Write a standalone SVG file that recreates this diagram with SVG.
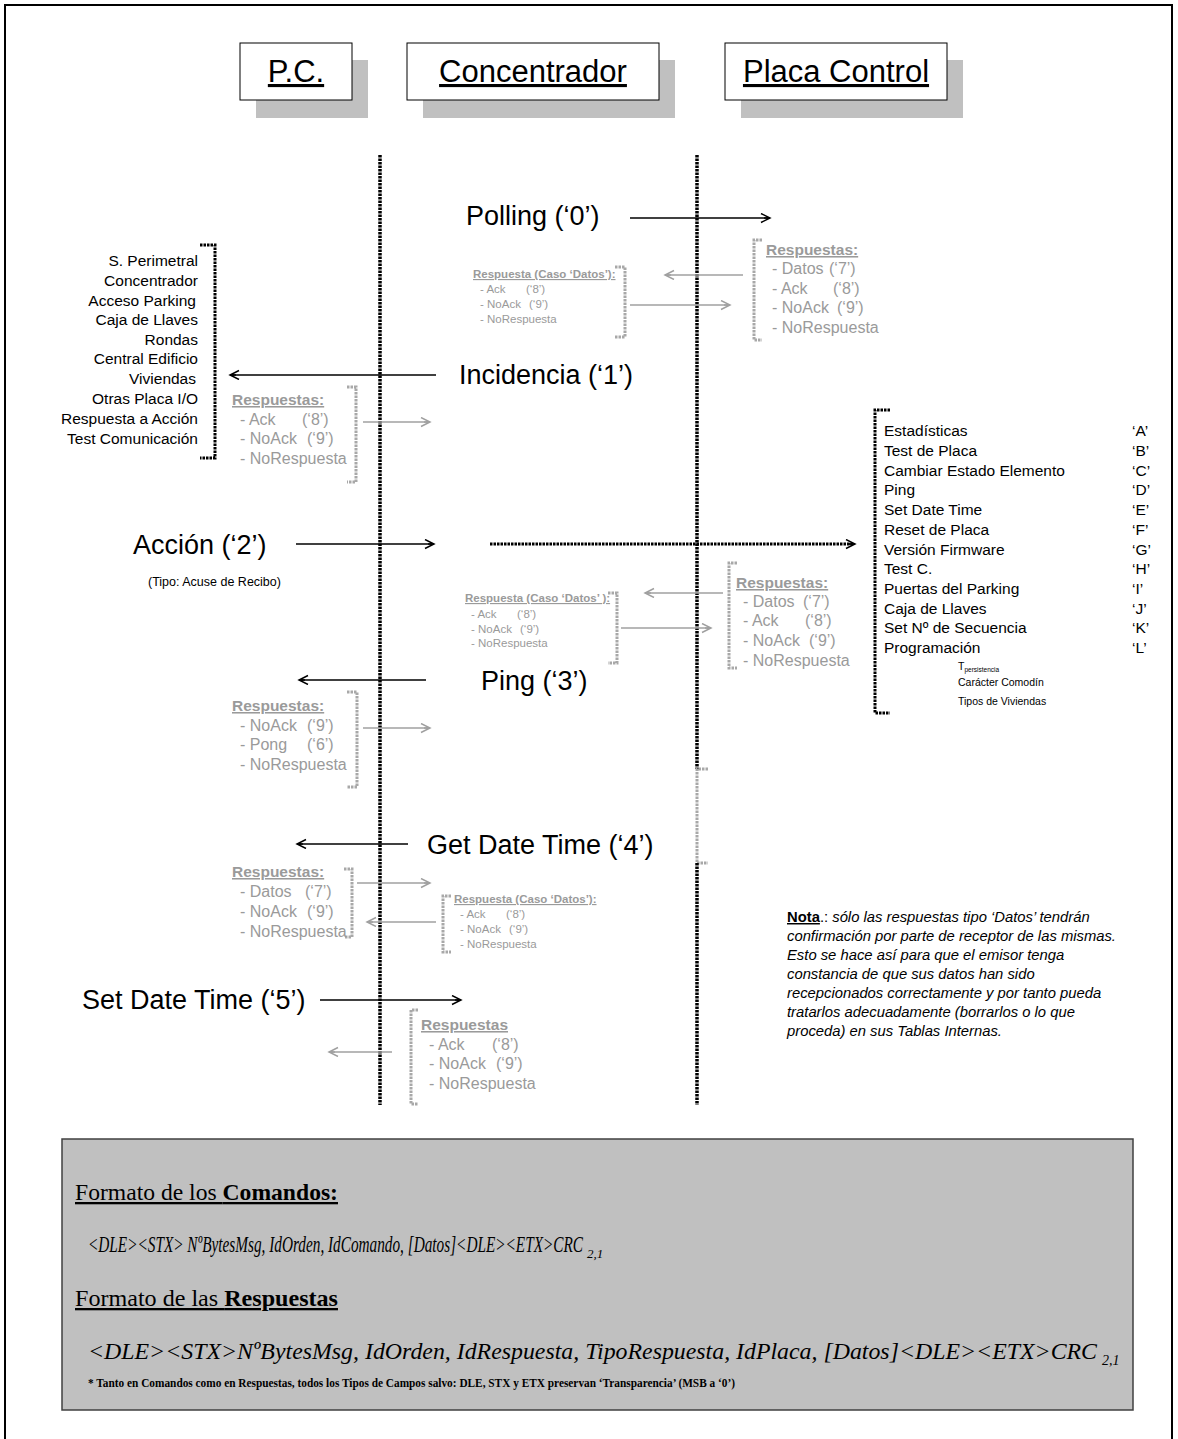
<svg xmlns="http://www.w3.org/2000/svg" width="1178" height="1439" viewBox="0 0 1178 1439">
<defs>
<style>
.sans{font-family:"Liberation Sans",Arial,sans-serif}
.hdr{font-family:"Liberation Sans",Arial,sans-serif;font-size:31px;text-decoration:underline;text-anchor:middle}
.cmd{font-family:"Liberation Sans",Arial,sans-serif;font-size:27px;fill:#000}
.lst{font-family:"Liberation Sans",Arial,sans-serif;font-size:15.5px;fill:#000}
.gh{font-family:"Liberation Sans",Arial,sans-serif;font-size:15.5px;font-weight:bold;fill:#9a9a9a;text-decoration:underline}
.gi{font-family:"Liberation Sans",Arial,sans-serif;font-size:16px;fill:#9a9a9a}
.sh{font-family:"Liberation Sans",Arial,sans-serif;font-size:11.5px;font-weight:bold;fill:#9a9a9a;text-decoration:underline}
.si{font-family:"Liberation Sans",Arial,sans-serif;font-size:11.5px;fill:#9a9a9a}
.note{font-family:"Liberation Sans",Arial,sans-serif;font-size:14.8px;font-style:italic;fill:#000}
.serif{font-family:"Liberation Serif","Times New Roman",serif;fill:#000}
.life{stroke:#000;stroke-width:3.5;stroke-dasharray:2.5 1;fill:none}
.bk{stroke:#000;stroke-width:3;stroke-dasharray:2.5 1;fill:none}
.gb{stroke:#a8a8a8;stroke-width:3;stroke-dasharray:2.5 1;fill:none}
.ab{stroke:#000;stroke-width:1.5;fill:none;marker-end:url(#mb)}
.ag{stroke:#a0a0a0;stroke-width:1.5;fill:none;marker-end:url(#mg)}
</style>
<marker id="mb" markerUnits="userSpaceOnUse" markerWidth="12" markerHeight="12" refX="10" refY="5" orient="auto"><path d="M1,0.5 L10,5 L1,9.5 M4,5 L10,5" stroke="#000" stroke-width="1.5" fill="none"/></marker>
<marker id="mg" markerUnits="userSpaceOnUse" markerWidth="12" markerHeight="12" refX="10" refY="5" orient="auto"><path d="M1,0.5 L10,5 L1,9.5 M4,5 L10,5" stroke="#a0a0a0" stroke-width="1.5" fill="none"/></marker>
</defs>
<rect x="0" y="0" width="1178" height="1439" fill="#fff"/>
<rect x="5" y="5" width="1167" height="1450" fill="none" stroke="#000" stroke-width="2"/>

<g id="node-pc">
<rect x="256" y="60" width="112" height="58" fill="#c0c0c0"/>
<rect x="240" y="43" width="112" height="57" fill="#fff" stroke="#000" stroke-width="1"/>
<text class="hdr" x="296" y="82">P.C.</text>
</g>
<g id="node-concentrador">
<rect x="423" y="60" width="252" height="58" fill="#c0c0c0"/>
<rect x="407" y="43" width="252" height="57" fill="#fff" stroke="#000" stroke-width="1"/>
<text class="hdr" x="533" y="82">Concentrador</text>
</g>
<g id="node-placa">
<rect x="741" y="60" width="222" height="58" fill="#c0c0c0"/>
<rect x="725" y="43" width="222" height="57" fill="#fff" stroke="#000" stroke-width="1"/>
<text class="hdr" x="836" y="82">Placa Control</text>
</g>

<g id="lifelines">
<line class="life" x1="380" y1="155" x2="380" y2="1105"/>
<line class="life" x1="697" y1="155" x2="697" y2="769"/>
<path class="gb" d="M708,769 H697 V863 H708"/>
<line class="life" x1="697" y1="863" x2="697" y2="1105"/>
</g>

<g id="connectors">
<line class="ab" x1="630" y1="218" x2="770" y2="218"/>
<line class="ab" x1="436" y1="375" x2="230" y2="375"/>
<line class="ab" x1="296" y1="544" x2="434" y2="544"/>
<line class="bk" x1="490" y1="544" x2="852" y2="544"/>
<line class="ab" x1="848" y1="544" x2="855" y2="544"/>
<line class="ab" x1="426" y1="680" x2="299" y2="680"/>
<line class="ab" x1="408" y1="844" x2="297" y2="844"/>
<line class="ab" x1="320" y1="1000" x2="461" y2="1000"/>
<line class="ag" x1="743" y1="275" x2="665" y2="275"/>
<line class="ag" x1="630" y1="305" x2="730" y2="305"/>
<line class="ag" x1="363" y1="422" x2="430" y2="422"/>
<line class="ag" x1="723" y1="593" x2="645" y2="593"/>
<line class="ag" x1="621" y1="628" x2="711" y2="628"/>
<line class="ag" x1="363" y1="728" x2="430" y2="728"/>
<line class="ag" x1="357" y1="883" x2="430" y2="883"/>
<line class="ag" x1="436" y1="922" x2="367" y2="922"/>
<line class="ag" x1="392" y1="1052" x2="329" y2="1052"/>
</g>

<g id="msg-polling"><text class="cmd" x="466" y="225">Polling (‘0’)</text></g>
<g id="msg-incidencia"><text class="cmd" x="459" y="384">Incidencia (‘1’)</text></g>
<g id="msg-accion">
<text class="cmd" x="133" y="554" font-size="28">Acción (‘2’)</text>
<text class="sans" x="148" y="586" font-size="12.5">(Tipo: Acuse de Recibo)</text>
</g>
<g id="msg-ping"><text class="cmd" x="481" y="690">Ping (‘3’)</text></g>
<g id="msg-getdate"><text class="cmd" x="427" y="854">Get Date Time (‘4’)</text></g>
<g id="msg-setdate"><text class="cmd" x="82" y="1009">Set Date Time (‘5’)</text></g>

<g id="list-incidencias">
<path class="bk" d="M200,245 H215 V458 H200"/>
<text class="lst" x="198" y="266" text-anchor="end">S. Perimetral</text>
<text class="lst" x="198" y="286" text-anchor="end">Concentrador</text>
<text class="lst" x="196" y="306" text-anchor="end">Acceso Parking</text>
<text class="lst" x="198" y="325" text-anchor="end">Caja de Llaves</text>
<text class="lst" x="198" y="345" text-anchor="end">Rondas</text>
<text class="lst" x="198" y="364" text-anchor="end">Central Edificio</text>
<text class="lst" x="196" y="384" text-anchor="end">Viviendas</text>
<text class="lst" x="198" y="404" text-anchor="end">Otras Placa I/O</text>
<text class="lst" x="198" y="424" text-anchor="end">Respuesta a Acción</text>
<text class="lst" x="198" y="444" text-anchor="end">Test Comunicación</text>
</g>

<g id="list-acciones">
<path class="bk" d="M890,410 H875 V713 H890"/>
<text class="lst" x="884" y="436">Estadísticas</text><text class="lst" x="1132" y="436">‘A’</text>
<text class="lst" x="884" y="456">Test de Placa</text><text class="lst" x="1132" y="456">‘B’</text>
<text class="lst" x="884" y="476">Cambiar Estado Elemento</text><text class="lst" x="1132" y="476">‘C’</text>
<text class="lst" x="884" y="495">Ping</text><text class="lst" x="1132" y="495">‘D’</text>
<text class="lst" x="884" y="515">Set Date Time</text><text class="lst" x="1132" y="515">‘E’</text>
<text class="lst" x="884" y="535">Reset de Placa</text><text class="lst" x="1132" y="535">‘F’</text>
<text class="lst" x="884" y="555">Versión Firmware</text><text class="lst" x="1132" y="555">‘G’</text>
<text class="lst" x="884" y="574">Test C.</text><text class="lst" x="1132" y="574">‘H’</text>
<text class="lst" x="884" y="594">Puertas del Parking</text><text class="lst" x="1132" y="594">‘I’</text>
<text class="lst" x="884" y="614">Caja de Llaves</text><text class="lst" x="1132" y="614">‘J’</text>
<text class="lst" x="884" y="633">Set Nº de Secuencia</text><text class="lst" x="1132" y="633">‘K’</text>
<text class="lst" x="884" y="653">Programación</text><text class="lst" x="1132" y="653">‘L’</text>
<text class="sans" x="958" y="670" font-size="10.5">T<tspan font-size="6.5" dy="2">persistencia</tspan></text>
<text class="sans" x="958" y="686" font-size="10.5">Carácter Comodín</text>
<text class="sans" x="958" y="705" font-size="10.5">Tipos de Viviendas</text>
</g>

<g id="resp-polling-placa">
<path class="gb" d="M762,240 H754 V340 H762"/>
<text class="gh" x="766" y="255">Respuestas:</text>
<text class="gi" x="772" y="274">- Datos <tspan x="829">(‘7’)</tspan></text>
<text class="gi" x="772" y="294">- Ack <tspan x="833">(‘8’)</tspan></text>
<text class="gi" x="772" y="313">- NoAck <tspan x="837">(‘9’)</tspan></text>
<text class="gi" x="772" y="333">- NoRespuesta</text>
</g>
<g id="resp-polling-conc">
<path class="gb" d="M615,267 H625 V337 H615"/>
<text class="sh" x="473" y="278">Respuesta (Caso ‘Datos’):</text>
<text class="si" x="480" y="293">- Ack <tspan x="526">(‘8’)</tspan></text>
<text class="si" x="480" y="308">- NoAck <tspan x="529">(‘9’)</tspan></text>
<text class="si" x="480" y="323">- NoRespuesta</text>
</g>

<g id="resp-incidencia">
<path class="gb" d="M347,387 H356 V482 H347"/>
<text class="gh" x="232" y="405">Respuestas:</text>
<text class="gi" x="240" y="425">- Ack <tspan x="302">(‘8’)</tspan></text>
<text class="gi" x="240" y="444">- NoAck <tspan x="307">(‘9’)</tspan></text>
<text class="gi" x="240" y="464">- NoRespuesta</text>
</g>

<g id="resp-accion-placa">
<path class="gb" d="M737,563 H729 V668 H737"/>
<text class="gh" x="736" y="588">Respuestas:</text>
<text class="gi" x="743" y="607">- Datos <tspan x="803">(‘7’)</tspan></text>
<text class="gi" x="743" y="626">- Ack <tspan x="805">(‘8’)</tspan></text>
<text class="gi" x="743" y="646">- NoAck <tspan x="809">(‘9’)</tspan></text>
<text class="gi" x="743" y="666">- NoRespuesta</text>
</g>
<g id="resp-accion-conc">
<path class="gb" d="M608,593 H617 V663 H608"/>
<text class="sh" x="465" y="602">Respuesta (Caso ‘Datos’ ):</text>
<text class="si" x="471" y="618">- Ack <tspan x="517">(‘8’)</tspan></text>
<text class="si" x="471" y="633">- NoAck <tspan x="520">(‘9’)</tspan></text>
<text class="si" x="471" y="647">- NoRespuesta</text>
</g>

<g id="resp-ping">
<path class="gb" d="M347,692 H357 V787 H347"/>
<text class="gh" x="232" y="711">Respuestas:</text>
<text class="gi" x="240" y="731">- NoAck <tspan x="307">(‘9’)</tspan></text>
<text class="gi" x="240" y="750">- Pong <tspan x="307">(‘6’)</tspan></text>
<text class="gi" x="240" y="770">- NoRespuesta</text>
</g>

<g id="resp-getdate">
<path class="gb" d="M344,869 H352 V937 H344"/>
<text class="gh" x="232" y="877">Respuestas:</text>
<text class="gi" x="240" y="897">- Datos <tspan x="305">(‘7’)</tspan></text>
<text class="gi" x="240" y="917">- NoAck <tspan x="307">(‘9’)</tspan></text>
<text class="gi" x="240" y="937">- NoRespuesta</text>
</g>
<g id="resp-getdate-conc">
<path class="gb" d="M451,896 H443 V952 H451"/>
<text class="sh" x="454" y="903">Respuesta (Caso ‘Datos’):</text>
<text class="si" x="460" y="918">- Ack <tspan x="506">(‘8’)</tspan></text>
<text class="si" x="460" y="933">- NoAck <tspan x="509">(‘9’)</tspan></text>
<text class="si" x="460" y="948">- NoRespuesta</text>
</g>

<g id="resp-setdate">
<path class="gb" d="M418,1010 H411 V1104 H418"/>
<text class="gh" x="421" y="1030">Respuestas</text>
<text class="gi" x="429" y="1050">- Ack <tspan x="492">(‘8’)</tspan></text>
<text class="gi" x="429" y="1069">- NoAck <tspan x="496">(‘9’)</tspan></text>
<text class="gi" x="429" y="1089">- NoRespuesta</text>
</g>

<g id="nota">
<text class="note" x="787" y="922"><tspan font-weight="bold" font-style="normal" text-decoration="underline">Nota</tspan><tspan font-style="normal">.:  </tspan>sólo las respuestas tipo ‘Datos’ tendrán</text>
<text class="note" x="787" y="941">confirmación por parte de receptor de las mismas.</text>
<text class="note" x="787" y="960">Esto se hace así para que el emisor tenga</text>
<text class="note" x="787" y="979">constancia de que sus datos han sido</text>
<text class="note" x="787" y="998">recepcionados correctamente y por tanto pueda</text>
<text class="note" x="787" y="1017">tratarlos adecuadamente (borrarlos o lo que</text>
<text class="note" x="787" y="1036">proceda) en sus Tablas Internas.</text>
</g>

<g id="formato">
<rect x="62" y="1139" width="1071" height="271" fill="#c0c0c0" stroke="#404040" stroke-width="1.5"/>
<text class="serif" x="75" y="1200" font-size="23" textLength="263" lengthAdjust="spacingAndGlyphs" text-decoration="underline">Formato de los <tspan font-weight="bold">Comandos:</tspan></text>
<text class="serif" x="88" y="1252" font-size="23" font-style="italic" textLength="495" lengthAdjust="spacingAndGlyphs">&lt;DLE&gt;&lt;STX&gt; NºBytesMsg, IdOrden, IdComando, [Datos]&lt;DLE&gt;&lt;ETX&gt;CRC</text>
<text class="serif" x="587" y="1258" font-size="13" font-style="italic">2,1</text>
<text class="serif" x="75" y="1306" font-size="23" textLength="263" lengthAdjust="spacingAndGlyphs" text-decoration="underline">Formato de las <tspan font-weight="bold">Respuestas</tspan></text>
<text class="serif" x="88" y="1359" font-size="24" font-style="italic" textLength="1009" lengthAdjust="spacingAndGlyphs">&lt;DLE&gt;&lt;STX&gt;NºBytesMsg, IdOrden, IdRespuesta, TipoRespuesta, IdPlaca, [Datos]&lt;DLE&gt;&lt;ETX&gt;CRC</text>
<text class="serif" x="1102" y="1365" font-size="14" font-style="italic">2,1</text>
<text class="serif" x="88" y="1387" font-size="13" font-weight="bold" textLength="647" lengthAdjust="spacingAndGlyphs">* Tanto en Comandos como en Respuestas, todos los Tipos de Campos  salvo: DLE, STX y ETX preservan ‘Transparencia’  (MSB a ‘0’)</text>
</g>
</svg>
